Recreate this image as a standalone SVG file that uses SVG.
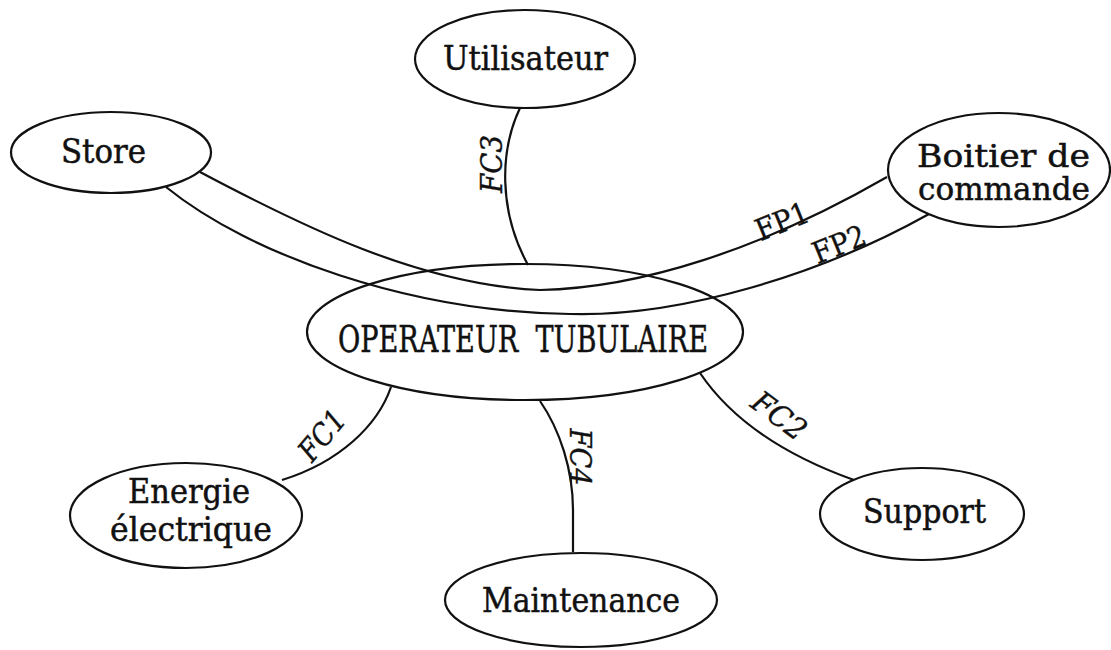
<svg xmlns="http://www.w3.org/2000/svg" width="1111" height="650" viewBox="0 0 1111 650">
<style>
.bg{fill:#fff}
.node ellipse{fill:none;stroke:#111;stroke-width:2.2}
.node text{font-family:"DejaVu Serif","Liberation Serif",serif;font-size:33px;fill:#111;stroke:#111;stroke-width:0.5;text-anchor:middle}
.conn path{fill:none;stroke:#111;stroke-width:2.2}
.lbl{font-family:"DejaVu Serif","Liberation Serif",serif;font-size:30px;fill:#111;stroke:#111;stroke-width:0.4;text-anchor:middle}
.it{font-style:italic}
</style>
<rect class="bg" x="0" y="0" width="1111" height="650"/>
<g id="connectors" class="conn">
  <path id="c-fp1" d="M200,172 C300,225 420,285 540,290 C640,288 760,250 887,177"/>
  <path id="c-fp2" d="M166,187 C250,255 410,312 570,314 C680,317 820,275 929,214"/>
  <path id="c-fc3" d="M520,108 C500,150 498,210 528,265"/>
  <path id="c-fc4" d="M540,401 C560,430 573,470 573,510 L573,552"/>
  <path id="c-fc1" d="M391,387 C378,425 340,462 282,480"/>
  <path id="c-fc2" d="M700,373 C725,410 770,450 854,480"/>
  <text class="lbl" transform="translate(786,231) rotate(-22)" textLength="55" lengthAdjust="spacingAndGlyphs">FP1</text>
  <text class="lbl" transform="translate(843,254) rotate(-22)" textLength="55" lengthAdjust="spacingAndGlyphs">FP2</text>
  <text class="lbl it" transform="translate(502,164) rotate(-90)" textLength="58" lengthAdjust="spacingAndGlyphs">FC3</text>
  <text class="lbl it" transform="translate(570,457) rotate(90)" textLength="57" lengthAdjust="spacingAndGlyphs">FC4</text>
  <text class="lbl it" transform="translate(330,442) rotate(-50)" textLength="56" lengthAdjust="spacingAndGlyphs">FC1</text>
  <text class="lbl it" transform="translate(773,424) rotate(37)" textLength="60" lengthAdjust="spacingAndGlyphs">FC2</text>
</g>
<g id="n-operateur" class="node">
  <ellipse cx="525" cy="332" rx="218" ry="68"/>
  <text x="523" y="352" style="font-size:37px" textLength="370" lengthAdjust="spacingAndGlyphs">OPERATEUR&#160; TUBULAIRE</text>
</g>
<g id="n-utilisateur" class="node">
  <ellipse cx="525" cy="59" rx="110" ry="49"/>
  <text x="525.5" y="70" textLength="165" lengthAdjust="spacingAndGlyphs">Utilisateur</text>
</g>
<g id="n-store" class="node">
  <ellipse cx="111" cy="152.5" rx="100" ry="40.5"/>
  <text x="103.5" y="163" textLength="85" lengthAdjust="spacingAndGlyphs">Store</text>
</g>
<g id="n-boitier" class="node">
  <ellipse cx="999" cy="170" rx="111" ry="57"/>
  <text x="1003.5" y="167" style="font-size:31px" textLength="173" lengthAdjust="spacingAndGlyphs">Boitier de</text>
  <text x="1004" y="200" style="font-size:31px" textLength="172" lengthAdjust="spacingAndGlyphs">commande</text>
</g>
<g id="n-energie" class="node">
  <ellipse cx="186" cy="515.5" rx="116" ry="52.5"/>
  <text x="189" y="503" textLength="122" lengthAdjust="spacingAndGlyphs">Energie</text>
  <text x="191" y="541" textLength="162" lengthAdjust="spacingAndGlyphs">électrique</text>
</g>
<g id="n-maintenance" class="node">
  <ellipse cx="581" cy="600" rx="136" ry="47"/>
  <text x="581" y="612" textLength="198" lengthAdjust="spacingAndGlyphs">Maintenance</text>
</g>
<g id="n-support" class="node">
  <ellipse cx="922" cy="514" rx="102" ry="46"/>
  <text x="924.5" y="523" textLength="123" lengthAdjust="spacingAndGlyphs">Support</text>
</g>
</svg>
